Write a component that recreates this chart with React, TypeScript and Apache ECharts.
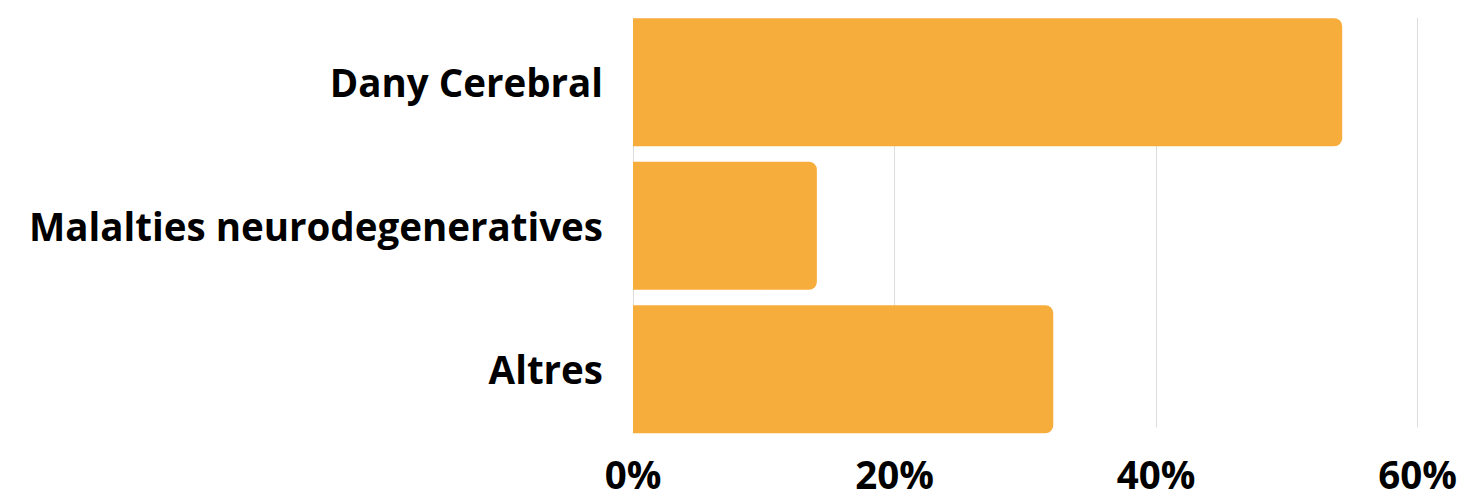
import React, { useEffect, useRef } from "react";
import * as echarts from "echarts";

const categories = ["Dany Cerebral", "Malalties neurodegeneratives", "Altres"];
const values = [54, 14, 32];
const axisMin = 0;
const axisMax = 60;
const axisInterval = 20;

export default function App() {
  const ref = useRef<HTMLDivElement>(null);
  useEffect(() => {
    if (!ref.current) return;
    const chart = echarts.init(ref.current, null, { renderer: "svg" });
    const font = { fontFamily: "Open Sans", fontWeight: "bold" as const, fontSize: 38.5, color: "#000" };
    chart.setOption({
      animation: false,
      grid: [
        { left: 633, right: 39, top: 18, height: 415 },
        { left: 633, right: 39, top: 10.5, height: 430.5 },
      ],
      xAxis: [
        {
          gridIndex: 0,
          type: "value",
          min: axisMin,
          max: axisMax,
          interval: axisInterval,
          axisLine: { show: false },
          axisTick: { show: false },
          splitLine: { show: true, lineStyle: { color: "#dddddd", width: 1 } },
          axisLabel: { ...font, lineHeight: 28, margin: 32, formatter: "{value}%" },
        },
        {
          gridIndex: 1,
          type: "value",
          min: axisMin,
          max: axisMax,
          show: false,
          splitLine: { show: false },
        },
      ],
      yAxis: [
        { gridIndex: 0, type: "value", show: false, splitLine: { show: false } },
        {
          gridIndex: 1,
          type: "category",
          inverse: true,
          data: categories,
          axisLine: { show: false },
          axisTick: { show: false },
          splitLine: { show: false },
          axisLabel: { ...font, margin: 30 },
        },
      ],
      series: [
        {
          type: "bar",
          xAxisIndex: 1,
          yAxisIndex: 1,
          data: values,
          barWidth: 128,
          itemStyle: { color: "#F7AD3C", borderRadius: [0, 8, 8, 0] },
        },
      ],
    });
    return () => chart.dispose();
  }, []);
  return (
    <div
      ref={ref}
      style={{ position: "absolute", left: 0, top: 0, width: 1460, height: 493 }}
    />
  );
}
